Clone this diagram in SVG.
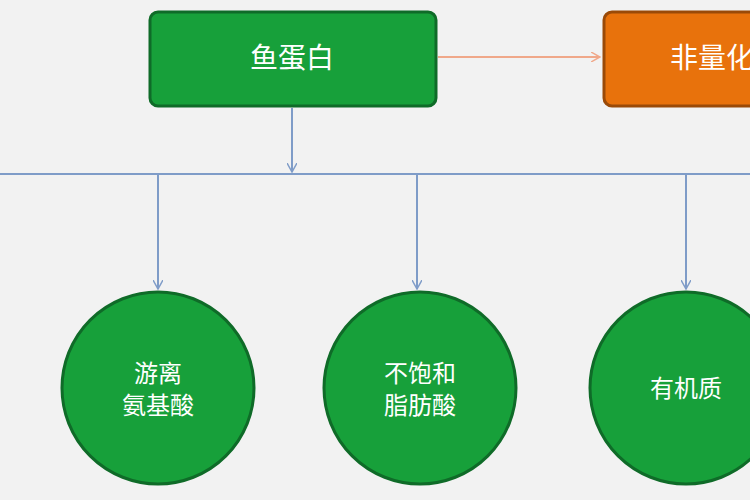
<svg xmlns="http://www.w3.org/2000/svg" width="750" height="500" viewBox="0 0 750 500">
<style>
.t{font-family:"Noto Sans CJK SC",sans-serif;fill:#fff;text-anchor:middle}
.c{fill:#17a03a;stroke:#0f6b28;stroke-width:3}
.l{stroke:#7f9cc8;stroke-width:2;fill:none}
</style>
<defs>
<marker id="a" markerWidth="10" markerHeight="10" refX="9" refY="5" orient="auto" markerUnits="userSpaceOnUse"><path d="M0,0 L9,5 L0,10" fill="none" stroke="#7f9cc8" stroke-width="1.5"/></marker>
<marker id="o" markerWidth="10" markerHeight="10" refX="9" refY="5" orient="auto" markerUnits="userSpaceOnUse"><path d="M0,0 L9,5 L0,10" fill="none" stroke="#f0a88a" stroke-width="1.5"/></marker>
</defs>
<rect width="750" height="500" fill="#f2f2f2"/>
<g id="connectors">
<line x1="438" y1="57" x2="600" y2="57" stroke="#f0a88a" stroke-width="2" marker-end="url(#o)"/>
<line class="l" x1="292" y1="108" x2="292" y2="172" marker-end="url(#a)"/>
<line class="l" x1="0" y1="174" x2="750" y2="174"/>
<line class="l" x1="158" y1="174" x2="158" y2="289" marker-end="url(#a)"/>
<line class="l" x1="417" y1="174" x2="417" y2="289" marker-end="url(#a)"/>
<line class="l" x1="686" y1="174" x2="686" y2="289" marker-end="url(#a)"/>
</g>
<g id="n1"><rect x="150" y="12" width="286" height="94" rx="8" class="c"/><text class="t" x="292" y="68" font-size="28">鱼蛋白</text></g>
<g id="n2"><rect x="604" y="12" width="170" height="94" rx="8" fill="#e8720c" stroke="#9a4a08" stroke-width="3"/><text class="t" x="670" y="68" font-size="28" text-anchor="start" style="text-anchor:start">非量化</text></g>
<g id="n3"><circle cx="158" cy="388" r="96" class="c"/><text class="t" x="158" y="382" font-size="24">游离</text><text class="t" x="158" y="414" font-size="24">氨基酸</text></g>
<g id="n4"><circle cx="420" cy="388" r="96" class="c"/><text class="t" x="420" y="382" font-size="24">不饱和</text><text class="t" x="420" y="414" font-size="24">脂肪酸</text></g>
<g id="n5"><circle cx="686" cy="388" r="96" class="c"/><text class="t" x="686" y="397" font-size="24">有机质</text></g>
</svg>
